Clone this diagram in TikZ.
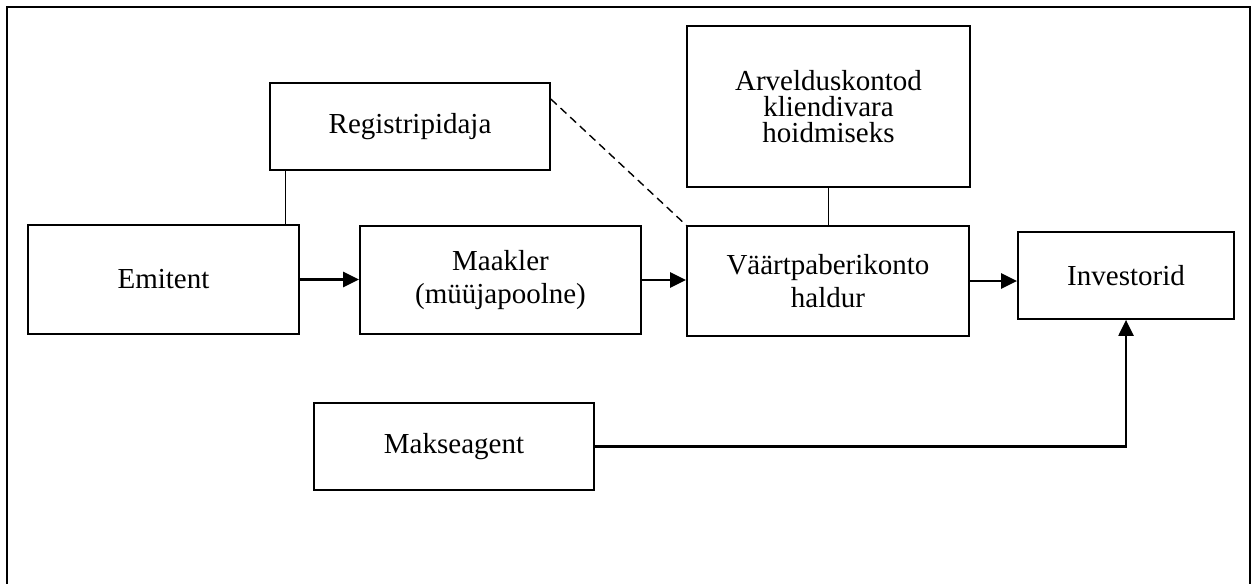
\documentclass[tikz,border=0pt]{standalone}
\usepackage{fontspec}
\setmainfont{Liberation Serif}
\usetikzlibrary{arrows.meta}
\begin{document}
\begin{tikzpicture}[x=0.5pt,y=-0.5pt,
  box/.style={draw,line width=0.9pt,inner sep=0pt,align=center,
    font=\fontsize{14.5pt}{16.5pt}\selectfont},
  thin/.style={line width=0.55pt},
  arr/.style={line width=1.2pt,-{Triangle[length=8pt,width=7.5pt]}},
  dash line/.style={line width=0.7pt,dash pattern=on 4pt off 2.6pt}]
\useasboundingbox (0,0) rectangle (1256,583);
\begin{scope}
\clip (0,0) rectangle (1256,583);
\draw[line width=1pt] (7,600) -- (7,7) -- (1250,7) -- (1250,600);
\end{scope}
\node[box,minimum width=140pt,minimum height=43.5pt] (reg) at (410,126.5) {Registripidaja};
\node[box,minimum width=135.5pt,minimum height=54.5pt] (emi) at (163.5,279.5) {Emitent};
\node[box,minimum width=140.5pt,minimum height=54pt] (maak) at (500.5,280) {Maakler\\(müüjapoolne)};
\node[box,minimum width=141pt,minimum height=55pt] (vaar) at (828,281) {Väärtpaberikonto\\haldur};
\node[box,minimum width=141.5pt,minimum height=80.5pt,
  font=\fontsize{14.5pt}{13.2pt}\selectfont] (arv) at (828.5,106.5) {Arvelduskontod\\kliendivara\\hoidmiseks};
\node[box,minimum width=108pt,minimum height=43.5pt] (inv) at (1126,275.5) {Investorid};
\node[box,minimum width=140pt,minimum height=43.5pt] (mak) at (454,446.5) {Makseagent};
\draw[thin] ([xshift=8pt]reg.south west) -- ([xshift=8pt]reg.south west |- emi.north);
\draw[thin] (arv.south) -- (arv.south |- vaar.north);
\draw[dash line] ([yshift=-8.5pt]reg.north east) -- (vaar.north west);
\draw[arr] (emi.east) -- (emi.east -| maak.west);
\draw[arr] (maak.east) -- (maak.east -| vaar.west);
\draw[arr] (vaar.east) -- (vaar.east -| inv.west);
\draw[arr] (mak.east) -| (inv.south);
\end{tikzpicture}
\end{document}
